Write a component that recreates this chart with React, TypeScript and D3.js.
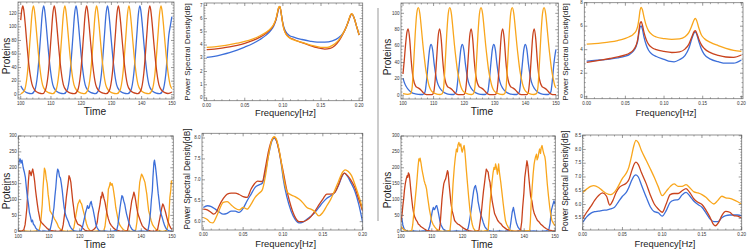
import * as d3 from 'd3';

type Pt = [number, number];

const BLUE = '#3d6fd9';
const RED = '#c9431d';
const YELLOW = '#f9a61c';

// tick values
const timeTicks = [100, 110, 120, 130, 140, 150];
const freqTicks = [0, 0.05, 0.1, 0.15, 0.2];
const proteinTicksA = [0, 20, 40, 60, 80, 100, 120];
const proteinTicksB = [0, 20, 40, 60, 80, 100];
const proteinTicksC = [0, 50, 100, 150, 200, 250, 300];
const psdTicksA = [0, 1, 2, 3, 4, 5, 6, 7];
const psdTicksB = [0, 2, 4, 6, 8];
const psdTicksC = [6.0, 6.5, 7.0, 7.5, 8.0];
const psdTicksD = [5.5, 6.0, 6.5, 7.0, 7.5, 8.0, 8.5];

// top-left: deterministic time series
const tlRed: Pt[] = [[100.0,110],[100.35,125],[100.7,131],[101.0,125],[101.5,104],[102.0,77],[102.7,44],[103.7,16],[104.7,6.5],[105.7,3.2],[106.7,1.8],[107.2,1.5],[108.1,6],[109.1,31],[110.1,88],[110.6,118],[111.1,131],[111.4,125],[111.9,104],[112.4,78],[113.1,45],[114.1,15],[115.1,6],[116.1,3],[117.1,1.8],[117.8,1.5],[118.8,6],[119.8,31],[120.8,88],[121.3,118],[121.8,131],[122.1,125],[122.6,104],[123.1,78],[123.8,45],[124.8,15],[125.8,6],[126.8,3],[127.8,1.8],[128.3,1.5],[129.3,6],[130.3,31],[131.3,88],[131.8,118],[132.3,131],[132.6,125],[133.1,104],[133.6,78],[134.3,45],[135.3,15],[136.3,6],[137.3,3],[138.3,1.8],[138.7,1.5],[139.7,6],[140.7,31],[141.7,88],[142.2,118],[142.7,131],[143.0,125],[143.5,104],[144.0,78],[144.7,45],[145.7,15],[146.7,6],[147.7,3],[148.7,1.8],[149.3,2.2],[150.0,4]];
const tlYellow: Pt[] = [[100.0,1.3],[101.2,6],[102.2,31],[103.2,88],[103.7,118],[104.2,131],[104.5,125],[105.0,104],[105.5,78],[106.2,45],[107.2,15],[108.2,6],[109.2,3],[110.2,1.8],[110.6,1.5],[111.6,6],[112.6,31],[113.6,88],[114.1,118],[114.6,131],[114.9,125],[115.4,104],[115.9,78],[116.6,45],[117.6,15],[118.6,6],[119.6,3],[120.6,1.8],[121.1,1.5],[122.1,6],[123.1,31],[124.1,88],[124.6,118],[125.1,131],[125.4,125],[125.9,104],[126.4,78],[127.1,45],[128.1,15],[129.1,6],[130.1,3],[131.1,1.8],[131.8,1.5],[132.8,6],[133.8,31],[134.8,88],[135.3,118],[135.8,131],[136.1,125],[136.6,104],[137.1,78],[137.8,45],[138.8,15],[139.8,6],[140.8,3],[141.8,1.8],[142.4,1.5],[143.4,6],[144.4,31],[145.4,88],[145.9,118],[146.4,131],[146.7,125],[147.2,104],[147.7,78],[148.4,45],[149.4,15],[150.0,9]];
const tlBlue: Pt[] = [[100.0,13],[101.0,6],[102.0,3],[103.0,1.8],[103.6,1.5],[104.6,6],[105.6,31],[106.6,88],[107.1,118],[107.6,131],[107.9,125],[108.4,104],[108.9,78],[109.6,45],[110.6,15],[111.6,6],[112.6,3],[113.6,1.8],[114.3,1.5],[115.3,6],[116.3,31],[117.3,88],[117.8,118],[118.3,131],[118.6,125],[119.1,104],[119.6,78],[120.3,45],[121.3,15],[122.3,6],[123.3,3],[124.3,1.8],[124.7,1.5],[125.7,6],[126.7,31],[127.7,88],[128.2,118],[128.7,131],[129.0,125],[129.5,104],[130.0,78],[130.7,45],[131.7,15],[132.7,6],[133.7,3],[134.7,1.8],[135.4,1.5],[136.4,6],[137.4,31],[138.4,88],[138.9,118],[139.4,131],[139.7,125],[140.2,104],[140.7,78],[141.4,45],[142.4,15],[143.4,6],[144.4,3],[145.4,1.8],[146.0,1.5],[147.0,6],[148.0,31],[149.0,88],[149.5,102],[150.0,115]];

// top-left PSD
const tpBlue: Pt[] = [[0,3.07],[0.01,3.15],[0.02,3.28],[0.03,3.43],[0.04,3.62],[0.05,3.85],[0.06,4.1],[0.07,4.42],[0.078,4.75],[0.084,5.1],[0.088,5.45],[0.091,5.9],[0.093,6.4],[0.0945,6.8],[0.096,6.88],[0.0975,6.5],[0.099,5.95],[0.101,5.4],[0.104,5.0],[0.108,4.75],[0.115,4.58],[0.125,4.42],[0.135,4.3],[0.145,4.22],[0.155,4.22],[0.165,4.32],[0.173,4.55],[0.179,4.9],[0.183,5.35],[0.186,5.8],[0.1885,6.2],[0.19,6.33],[0.1915,6.28],[0.194,5.95],[0.197,5.35],[0.2,4.76]];
const tpRed: Pt[] = [[0,3.65],[0.01,3.7],[0.02,3.77],[0.03,3.86],[0.04,3.98],[0.05,4.13],[0.06,4.33],[0.07,4.6],[0.078,4.9],[0.084,5.2],[0.088,5.52],[0.091,5.95],[0.093,6.45],[0.0945,6.82],[0.096,6.9],[0.0975,6.5],[0.099,5.9],[0.101,5.3],[0.104,4.85],[0.108,4.6],[0.115,4.4],[0.125,4.18],[0.135,3.98],[0.145,3.8],[0.155,3.7],[0.162,3.75],[0.168,3.95],[0.174,4.35],[0.179,4.85],[0.183,5.35],[0.186,5.8],[0.1885,6.22],[0.19,6.36],[0.1915,6.3],[0.194,5.95],[0.197,5.35],[0.2,4.76]];
const tpYellow: Pt[] = [[0,3.82],[0.01,3.87],[0.02,3.94],[0.03,4.03],[0.04,4.14],[0.05,4.27],[0.06,4.45],[0.07,4.7],[0.078,4.97],[0.084,5.25],[0.088,5.57],[0.091,6.0],[0.093,6.5],[0.0945,6.85],[0.096,6.93],[0.0975,6.52],[0.099,5.9],[0.101,5.28],[0.104,4.82],[0.108,4.57],[0.115,4.38],[0.125,4.2],[0.135,4.02],[0.145,3.88],[0.152,3.82],[0.158,3.82],[0.165,3.98],[0.172,4.3],[0.178,4.8],[0.183,5.35],[0.186,5.82],[0.1885,6.25],[0.19,6.38],[0.1915,6.3],[0.194,5.95],[0.197,5.35],[0.2,4.76]];

// top-right: deterministic time series
const trRed: Pt[] = [[100.0,26],[100.4,42],[100.9,64],[101.3,77],[101.7,81],[102.2,68],[102.7,42],[103.2,24],[103.7,15],[104.2,11],[104.7,9.5],[105.2,8.5],[105.7,7],[106.2,5],[106.7,3],[107.2,1.5],[108.2,0.8],[109.5,0.8],[110.0,3],[110.5,18],[111.0,45],[111.5,72],[112.0,81],[112.5,68],[113.0,42],[113.5,24],[114.0,15],[114.5,11],[115.0,9.5],[115.5,8.5],[116.0,7],[116.5,5],[117.0,3],[117.5,1.5],[118.5,0.8],[119.8,0.8],[120.3,3],[120.8,18],[121.3,45],[121.8,72],[122.3,81],[122.8,68],[123.3,42],[123.8,24],[124.3,15],[124.8,11],[125.3,9.5],[125.8,8.5],[126.3,7],[126.8,5],[127.3,3],[127.8,1.5],[128.8,0.8],[130.1,0.8],[130.6,3],[131.1,18],[131.6,45],[132.1,72],[132.6,81],[133.1,68],[133.6,42],[134.1,24],[134.6,15],[135.1,11],[135.6,9.5],[136.1,8.5],[136.6,7],[137.1,5],[137.6,3],[138.1,1.5],[139.1,0.8],[140.4,0.8],[140.9,3],[141.4,18],[141.9,45],[142.4,72],[142.9,81],[143.4,68],[143.9,42],[144.4,24],[144.9,15],[145.4,11],[145.9,9.5],[146.4,8.5],[146.9,7],[147.4,5],[147.9,3],[148.4,1.5],[149.4,0.8],[150.0,0.8]];
const trYellow: Pt[] = [[100.0,2],[101.5,1.2],[102.5,2],[103.0,10],[103.5,40],[104.0,75],[104.5,100],[105.0,107],[105.5,100],[106.0,82],[106.5,62],[107.0,45],[107.5,30],[108.0,20],[108.5,12],[109.0,7],[110.0,3],[111.0,1.5],[112.0,1],[112.8,2],[113.3,10],[113.8,40],[114.3,75],[114.8,100],[115.3,107],[115.8,100],[116.3,82],[116.8,62],[117.3,45],[117.8,30],[118.3,20],[118.8,12],[119.3,7],[120.3,3],[121.3,1.5],[122.3,1],[123.0,2],[123.5,10],[124.0,40],[124.5,75],[125.0,100],[125.5,107],[126.0,100],[126.5,82],[127.0,62],[127.5,45],[128.0,30],[128.5,20],[129.0,12],[129.5,7],[130.5,3],[131.5,1.5],[132.5,1],[133.2,2],[133.7,10],[134.2,40],[134.7,75],[135.2,100],[135.7,107],[136.2,100],[136.7,82],[137.2,62],[137.7,45],[138.2,30],[138.7,20],[139.2,12],[139.7,7],[140.7,3],[141.7,1.5],[142.7,1],[143.6,2],[144.1,10],[144.6,40],[145.1,75],[145.6,100],[146.1,107],[146.6,100],[147.1,82],[147.6,62],[148.1,45],[148.6,30],[149.1,20],[149.6,12],[150.0,9]];
const trBlue: Pt[] = [[100.0,21],[100.5,15],[101.0,11],[102.0,6],[103.0,3],[104.0,1.8],[105.0,1.2],[106.5,1],[107.2,4],[107.7,18],[108.2,38],[108.7,56],[109.2,62],[109.7,55],[110.2,38],[110.7,25],[111.2,16],[112.2,8],[113.2,4],[114.2,2],[115.2,1.2],[116.6,1],[117.4,4],[117.9,18],[118.4,38],[118.9,56],[119.4,62],[119.9,55],[120.4,38],[120.9,25],[121.4,16],[122.4,8],[123.4,4],[124.4,2],[125.4,1.2],[126.9,1],[127.7,4],[128.2,18],[128.7,38],[129.2,56],[129.7,62],[130.2,55],[130.7,38],[131.2,25],[131.7,16],[132.7,8],[133.7,4],[134.7,2],[135.7,1.2],[137.2,1],[138.0,4],[138.5,18],[139.0,38],[139.5,56],[140.0,62],[140.5,55],[141.0,38],[141.5,25],[142.0,16],[143.0,8],[144.0,4],[145.0,2],[146.0,1.2],[147.5,1],[148.3,4],[148.8,18],[149.3,38],[149.8,52],[150.0,56]];

// top-right PSD
const rpYellow: Pt[] = [[0,4.48],[0.01,4.52],[0.02,4.58],[0.03,4.66],[0.04,4.78],[0.05,4.96],[0.055,5.1],[0.06,5.3],[0.064,5.62],[0.066,6.0],[0.0675,6.6],[0.069,7.35],[0.0705,7.6],[0.072,7.4],[0.074,6.8],[0.077,6.05],[0.08,5.6],[0.085,5.25],[0.09,5.08],[0.1,4.95],[0.11,4.88],[0.12,4.92],[0.127,5.1],[0.132,5.45],[0.136,6.05],[0.139,6.55],[0.1405,6.67],[0.142,6.5],[0.145,5.85],[0.148,5.3],[0.152,4.95],[0.16,4.62],[0.17,4.35],[0.18,4.12],[0.19,3.95],[0.2,3.85]];
const rpRed: Pt[] = [[0,2.92],[0.01,3.02],[0.02,3.13],[0.03,3.25],[0.04,3.38],[0.05,3.56],[0.055,3.7],[0.06,3.95],[0.064,4.4],[0.066,4.9],[0.0675,5.6],[0.069,6.25],[0.0705,6.38],[0.072,6.1],[0.074,5.5],[0.077,4.85],[0.08,4.45],[0.085,4.15],[0.09,4.0],[0.1,3.85],[0.11,3.76],[0.12,3.82],[0.127,4.05],[0.132,4.45],[0.136,5.1],[0.139,5.55],[0.1405,5.62],[0.142,5.45],[0.145,4.9],[0.148,4.45],[0.152,4.1],[0.16,3.75],[0.17,3.52],[0.18,3.38],[0.19,3.35],[0.2,3.55]];
const rpBlue: Pt[] = [[0,3.03],[0.01,3.08],[0.02,3.14],[0.03,3.2],[0.04,3.3],[0.05,3.45],[0.055,3.58],[0.06,3.85],[0.064,4.3],[0.066,4.75],[0.0675,5.4],[0.069,5.92],[0.0705,6.02],[0.072,5.75],[0.074,5.1],[0.077,4.4],[0.08,3.95],[0.085,3.6],[0.09,3.42],[0.1,3.18],[0.108,3.0],[0.113,2.97],[0.12,3.15],[0.127,3.5],[0.132,4.1],[0.136,4.95],[0.139,5.45],[0.1405,5.52],[0.142,5.35],[0.145,4.7],[0.148,4.1],[0.152,3.6],[0.16,3.2],[0.17,2.98],[0.18,2.85],[0.19,2.85],[0.2,3.12]];

// bottom-left: stochastic time series
const blBlue: Pt[] = [[100.0,205],[100.3,222],[100.6,228],[100.9,215],[101.2,224],[101.6,200],[102.0,185],[102.3,170],[102.7,130],[103.0,105],[103.3,86],[103.6,60],[104.0,44],[104.3,30],[104.6,35],[104.9,23],[105.3,18],[105.7,10],[106.2,5],[106.8,2],[107.5,0],[108.5,1],[109.5,0],[110.3,3],[110.7,20],[111.0,34],[111.3,55],[111.6,75],[111.9,110],[112.2,138],[112.5,175],[112.8,196],[113.1,190],[113.4,172],[113.7,168],[114.0,150],[114.3,128],[114.6,100],[114.9,75],[115.2,60],[115.5,48],[115.9,39],[116.3,30],[116.7,18],[117.2,10],[117.7,4],[118.3,1],[119.5,0],[120.5,2],[120.9,15],[121.2,28],[121.6,45],[121.9,60],[122.2,70],[122.5,81],[122.8,72],[123.1,75],[123.4,88],[123.7,94],[124.0,80],[124.3,70],[124.6,55],[124.9,40],[125.2,23],[125.6,12],[126.1,4],[126.8,0],[128,1],[129.5,0],[131,1],[132.0,3],[132.4,20],[132.8,50],[133.1,75],[133.4,95],[133.7,112],[134.0,108],[134.3,95],[134.6,86],[134.9,70],[135.2,55],[135.5,44],[135.8,33],[136.1,23],[136.5,14],[137.0,6],[137.6,2],[138.5,0],[140,1],[141.5,0],[142.2,4],[142.6,25],[143.0,60],[143.3,100],[143.6,128],[143.8,170],[144.1,215],[144.3,224],[144.6,205],[144.9,180],[145.2,150],[145.5,120],[145.8,96],[146.1,70],[146.4,55],[146.8,44],[147.2,30],[147.6,18],[148.0,10],[148.5,4],[149.2,1],[150,0]];
const blRed: Pt[] = [[100.0,2],[101.0,0],[101.8,5],[102.2,20],[102.5,45],[102.8,75],[103.0,110],[103.3,159],[103.6,191],[103.9,185],[104.2,175],[104.4,186],[104.7,196],[105.0,180],[105.3,159],[105.6,130],[105.9,107],[106.2,85],[106.5,65],[106.8,50],[107.1,34],[107.5,28],[108.0,23],[108.5,18],[109.0,13],[109.5,8],[110.3,3],[111.5,1],[113,0],[114.2,3],[114.6,20],[115.0,50],[115.3,75],[115.6,105],[115.9,128],[116.2,150],[116.5,175],[116.8,168],[117.1,154],[117.4,125],[117.7,96],[118.0,75],[118.4,44],[118.8,35],[119.3,23],[119.8,20],[120.3,18],[121.0,10],[121.7,3],[122.5,1],[124.0,2],[124.8,8],[125.3,15],[125.7,30],[126.0,55],[126.3,70],[126.6,86],[126.9,110],[127.1,105],[127.3,123],[127.6,115],[127.9,102],[128.2,92],[128.5,75],[128.9,55],[129.3,39],[129.8,25],[130.3,18],[131.0,10],[131.8,4],[133,1],[134.5,0],[135.5,2],[135.9,20],[136.3,55],[136.6,75],[136.9,96],[137.3,110],[137.6,123],[137.9,112],[138.2,95],[138.5,75],[138.9,55],[139.3,44],[139.8,30],[140.3,18],[141.0,10],[141.8,4],[143,1],[144.5,0],[145.3,5],[145.7,25],[146.1,44],[146.4,60],[146.7,75],[147.0,86],[147.3,80],[147.6,70],[147.9,60],[148.3,44],[148.7,30],[149.2,18],[149.6,10],[150,6]];
const blYellow: Pt[] = [[100,0],[102,1],[104,0],[106,1],[106.8,4],[107.2,20],[107.5,50],[107.8,86],[108.0,130],[108.2,159],[108.5,199],[108.8,190],[109.1,165],[109.4,150],[109.7,117],[110.0,95],[110.3,65],[110.6,60],[110.9,55],[111.3,50],[111.7,40],[112.1,34],[112.6,25],[113.1,13],[113.7,6],[114.5,1],[116,0],[117.6,2],[118.1,12],[118.5,35],[118.8,55],[119.1,70],[119.4,86],[119.7,92],[120.0,99],[120.3,90],[120.6,86],[121.0,70],[121.4,55],[121.8,40],[122.2,23],[122.7,10],[123.3,3],[124.2,0],[126,1],[127.8,2],[128.2,15],[128.5,40],[128.8,65],[129.1,100],[129.3,133],[129.6,140],[129.9,154],[130.2,145],[130.5,150],[130.8,139],[131.1,120],[131.4,100],[131.7,75],[132.1,55],[132.5,34],[133.0,20],[133.5,13],[134.2,5],[135,1],[137,0],[138.2,4],[138.6,30],[138.9,75],[139.2,120],[139.5,154],[139.8,168],[140.1,180],[140.4,175],[140.6,170],[140.9,162],[141.2,154],[141.5,135],[141.8,117],[142.1,90],[142.4,65],[142.8,50],[143.2,34],[143.7,20],[144.2,13],[144.8,6],[145.5,2],[147,0],[148.3,3],[148.7,20],[149.0,50],[149.3,107],[149.6,130],[149.8,159],[150,150]];

// bottom-left PSD
const bpBlue: Pt[] = [[0,6.34],[0.005,6.38],[0.01,6.36],[0.015,6.3],[0.02,6.23],[0.025,6.18],[0.03,6.2],[0.035,6.25],[0.04,6.25],[0.045,6.22],[0.05,6.32],[0.055,6.5],[0.06,6.66],[0.065,6.82],[0.07,6.88],[0.074,6.92],[0.078,7.2],[0.082,7.6],[0.086,7.92],[0.089,8.0],[0.092,7.92],[0.095,7.7],[0.098,7.35],[0.1,7.06],[0.105,6.58],[0.11,6.26],[0.115,6.06],[0.12,5.97],[0.125,5.99],[0.13,6.06],[0.135,6.13],[0.14,6.22],[0.145,6.34],[0.15,6.46],[0.155,6.56],[0.16,6.62],[0.165,6.7],[0.17,6.88],[0.174,7.08],[0.177,7.16],[0.181,7.08],[0.185,6.94],[0.19,6.74],[0.195,6.42],[0.2,5.98]];
const bpRed: Pt[] = [[0,6.3],[0.005,6.28],[0.01,6.22],[0.013,6.18],[0.017,6.25],[0.02,6.38],[0.025,6.55],[0.03,6.66],[0.035,6.68],[0.04,6.68],[0.045,6.65],[0.05,6.6],[0.055,6.58],[0.06,6.78],[0.064,6.9],[0.068,6.97],[0.074,6.96],[0.078,7.3],[0.082,7.7],[0.086,7.95],[0.089,8.02],[0.092,7.93],[0.095,7.7],[0.098,7.4],[0.1,7.22],[0.104,6.82],[0.108,6.5],[0.112,6.25],[0.116,6.08],[0.12,6.0],[0.125,6.0],[0.13,6.04],[0.135,6.12],[0.14,6.25],[0.145,6.4],[0.15,6.54],[0.155,6.66],[0.16,6.66],[0.165,6.7],[0.17,6.9],[0.174,7.1],[0.177,7.16],[0.181,7.1],[0.185,7.0],[0.19,6.82],[0.195,6.54],[0.2,6.25]];
const bpYellow: Pt[] = [[0,6.1],[0.005,6.05],[0.009,5.98],[0.012,5.97],[0.016,6.1],[0.02,6.28],[0.025,6.46],[0.03,6.48],[0.035,6.4],[0.04,6.32],[0.045,6.28],[0.05,6.34],[0.055,6.3],[0.06,6.42],[0.065,6.58],[0.07,6.68],[0.074,6.76],[0.078,7.1],[0.082,7.6],[0.086,7.95],[0.089,8.03],[0.092,7.96],[0.095,7.73],[0.098,7.4],[0.1,7.14],[0.105,6.72],[0.11,6.64],[0.115,6.6],[0.12,6.54],[0.125,6.45],[0.13,6.34],[0.135,6.3],[0.14,6.24],[0.145,6.14],[0.15,6.22],[0.155,6.38],[0.16,6.54],[0.165,6.75],[0.17,6.98],[0.174,7.16],[0.178,7.24],[0.182,7.2],[0.186,7.1],[0.19,6.9],[0.195,6.62],[0.2,6.3]];

// bottom-right: stochastic time series
const brRed: Pt[] = [[100.0,30],[100.3,50],[100.6,80],[100.9,105],[101.1,128],[101.4,150],[101.7,165],[102.0,175],[102.2,170],[102.4,184],[102.7,178],[102.9,160],[103.2,128],[103.5,100],[103.8,75],[104.1,58],[104.5,44],[104.9,36],[105.3,30],[105.6,23],[106.0,20],[106.4,15],[106.9,12],[107.5,8],[108.3,3],[109.5,1],[111,0],[112.4,3],[112.7,20],[113.0,60],[113.3,100],[113.6,128],[113.9,150],[114.2,159],[114.5,165],[114.8,178],[115.1,191],[115.3,185],[115.6,150],[115.9,120],[116.2,90],[116.6,65],[117.0,50],[117.4,34],[117.9,28],[118.4,23],[119.0,20],[119.6,15],[120.3,10],[121,6],[122,2],[123.5,0],[125.3,3],[125.7,30],[126.1,60],[126.5,100],[126.8,128],[127.1,150],[127.4,175],[127.7,196],[128.0,190],[128.3,186],[128.6,165],[128.9,154],[129.2,125],[129.6,96],[130.0,75],[130.4,55],[130.9,45],[131.4,34],[131.9,28],[132.5,23],[133.1,15],[133.8,10],[134.5,5],[135.5,2],[137,0],[138.8,2],[139.2,30],[139.5,75],[139.9,120],[140.2,170],[140.6,200],[140.9,222],[141.2,205],[141.5,170],[141.8,140],[142.1,110],[142.5,96],[142.9,70],[143.3,55],[143.8,44],[144.3,34],[144.8,30],[145.3,23],[145.9,18],[146.5,13],[147.2,8],[148,4],[149,2],[150,1]];
const brYellow: Pt[] = [[100.0,15],[100.8,6],[101.5,2],[102.5,0],[103.5,3],[103.8,20],[104.1,50],[104.4,80],[104.7,110],[105.0,140],[105.3,175],[105.5,200],[105.8,228],[106.0,222],[106.2,230],[106.5,215],[106.8,195],[107.0,185],[107.2,175],[107.5,160],[107.8,150],[108.0,145],[108.3,133],[108.6,110],[108.9,90],[109.2,70],[109.6,50],[109.9,34],[110.4,22],[111.0,13],[111.6,6],[112.3,2],[113.5,0],[115,1],[115.9,3],[116.2,30],[116.6,96],[116.9,150],[117.3,201],[117.6,230],[118.0,259],[118.3,250],[118.5,272],[118.8,280],[119.1,268],[119.4,275],[119.7,255],[119.9,249],[120.2,262],[120.5,270],[120.7,255],[120.9,233],[121.2,195],[121.6,149],[122.0,105],[122.4,65],[122.8,40],[123.1,23],[123.5,10],[124.0,3],[125.0,0],[127,1],[128.3,3],[128.6,40],[128.8,75],[129.2,120],[129.6,159],[129.9,185],[130.2,201],[130.5,195],[130.7,212],[131.0,200],[131.3,180],[131.5,195],[131.7,212],[131.9,190],[132.1,175],[132.4,154],[132.8,120],[133.2,86],[133.6,55],[133.9,34],[134.3,22],[134.8,13],[135.3,5],[136,1],[138,0],[140,1],[141.8,3],[142.0,30],[142.3,96],[142.6,140],[142.9,180],[143.2,210],[143.4,222],[143.7,235],[144.0,243],[144.2,225],[144.5,233],[144.8,250],[145.0,259],[145.3,245],[145.5,262],[145.8,270],[146.1,255],[146.4,243],[146.7,235],[146.9,222],[147.2,185],[147.5,149],[147.9,110],[148.3,75],[148.6,55],[149.0,34],[149.5,25],[150,18]];
const brBlue: Pt[] = [[100,45],[100.3,40],[100.6,20],[101.0,8],[101.5,3],[102.5,0],[104,1],[106,0],[107,1],[108.8,2],[109.3,15],[109.7,34],[110.0,55],[110.2,65],[110.5,75],[110.8,68],[111.0,70],[111.3,78],[111.6,81],[111.9,70],[112.1,60],[112.4,45],[112.6,34],[113.0,20],[113.7,7],[114.5,2],[116,0],[118,1],[120,0],[121.3,2],[121.8,10],[122.2,30],[122.6,55],[122.9,75],[123.2,100],[123.6,128],[123.9,140],[124.2,144],[124.5,130],[124.8,117],[125.0,95],[125.3,80],[125.6,65],[126.0,50],[126.4,38],[126.7,28],[127.2,15],[127.8,7],[128.5,2],[130,0],[132,1],[134,0],[135.3,5],[135.6,23],[135.9,45],[136.1,60],[136.5,75],[136.8,60],[137.1,44],[137.5,25],[138.0,13],[138.6,5],[139.5,1],[141,0],[143,1],[145,0],[147,1],[148.0,5],[148.4,25],[148.8,65],[149.2,80],[149.5,90],[149.7,96],[150,85]];

// bottom-right PSD
const qpYellow: Pt[] = [[0,6.44],[0.005,6.56],[0.01,6.66],[0.014,6.69],[0.02,6.62],[0.025,6.5],[0.03,6.4],[0.035,6.36],[0.04,6.45],[0.045,6.68],[0.05,6.95],[0.055,7.15],[0.058,7.35],[0.061,7.7],[0.064,8.1],[0.067,8.33],[0.07,8.25],[0.074,7.95],[0.08,7.6],[0.085,7.3],[0.09,6.99],[0.095,6.65],[0.1,6.32],[0.105,6.48],[0.11,6.65],[0.115,6.75],[0.12,6.66],[0.125,6.66],[0.13,6.72],[0.135,6.6],[0.14,6.46],[0.145,6.42],[0.15,6.36],[0.155,6.26],[0.16,6.12],[0.165,6.02],[0.17,6.15],[0.175,6.3],[0.18,6.24],[0.185,6.22],[0.19,6.17],[0.195,6.1],[0.2,6.02]];
const qpRed: Pt[] = [[0,5.48],[0.005,5.72],[0.01,5.92],[0.015,6.15],[0.02,6.33],[0.025,6.42],[0.03,6.3],[0.034,5.98],[0.038,6.15],[0.042,6.44],[0.046,6.62],[0.05,6.7],[0.055,6.78],[0.058,6.9],[0.062,7.25],[0.065,7.48],[0.067,7.54],[0.07,7.45],[0.074,7.15],[0.08,6.75],[0.085,6.35],[0.09,6.02],[0.095,5.84],[0.1,5.72],[0.105,6.02],[0.11,6.36],[0.115,6.4],[0.12,6.4],[0.125,6.5],[0.13,6.58],[0.135,6.42],[0.14,6.2],[0.145,6.08],[0.15,6.0],[0.155,5.8],[0.16,5.55],[0.164,5.3],[0.167,5.23],[0.171,5.35],[0.175,5.6],[0.18,5.75],[0.185,5.72],[0.19,5.6],[0.195,5.58],[0.2,5.51]];
const qpBlue: Pt[] = [[0,5.35],[0.005,5.55],[0.01,5.68],[0.015,5.74],[0.02,5.76],[0.025,5.79],[0.03,5.8],[0.035,5.84],[0.04,5.9],[0.045,6.1],[0.05,6.3],[0.055,6.45],[0.058,6.62],[0.062,6.9],[0.065,7.05],[0.067,7.08],[0.07,7.0],[0.074,6.7],[0.08,6.26],[0.085,5.92],[0.09,5.74],[0.095,5.7],[0.1,5.58],[0.105,5.78],[0.11,6.08],[0.115,6.16],[0.12,6.18],[0.125,6.35],[0.13,6.44],[0.135,6.3],[0.14,6.12],[0.145,6.0],[0.15,5.9],[0.155,5.7],[0.16,5.48],[0.165,5.38],[0.17,5.38],[0.175,5.52],[0.18,5.6],[0.185,5.62],[0.19,5.62],[0.195,5.62],[0.2,5.6]];

const FONT = "'Liberation Sans', Arial, sans-serif";

interface PanelProps {
  id: string;
  box: [number, number, number, number];
  xDomain: [number, number];
  yDomain: [number, number];
  xTicks: number[];
  yTicks: number[];
  xFmt: (d: number) => string;
  yFmt: (d: number) => string;
  lines: { data: Pt[]; color: string }[];
  smooth: boolean;
  xLabel: string;
  yLabel: string;
  xLabelAt: [number, number];
  yLabelAt: [number, number];
  xLabelSize: number;
  yLabelSize: number;
}

// minor tick positions between the major ones (5 subdivisions)
function minors(ticks: number[], domain: [number, number]) {
  const step = (ticks[1] - ticks[0]) / 5;
  const out: number[] = [];
  const start = Math.ceil((domain[0] - ticks[0]) / step);
  for (let i = start; ticks[0] + i * step <= domain[1] + 1e-9; i++) {
    if (i % 5 !== 0) out.push(ticks[0] + i * step);
  }
  return out;
}

function Panel(p: PanelProps) {
  const [x0, y0, x1, y1] = p.box;
  const x = d3.scaleLinear().domain(p.xDomain).range([x0, x1]);
  const y = d3.scaleLinear().domain(p.yDomain).range([y1, y0]);
  const line = d3
    .line<Pt>()
    .x((d) => x(d[0]))
    .y((d) => y(d[1]))
    .curve(p.smooth ? d3.curveMonotoneX : d3.curveLinear);
  const mx = minors(p.xTicks, p.xDomain);
  const my = minors(p.yTicks, p.yDomain);
  const tc = '#555';
  return (
    <g>
      <defs>
        <clipPath id={p.id}>
          <rect x={x0} y={y0} width={x1 - x0} height={y1 - y0} />
        </clipPath>
      </defs>
      <g clipPath={`url(#${p.id})`}>
        {p.lines.map((l, i) => (
          <path key={i} d={line(l.data) || ''} fill="none" stroke={l.color} strokeWidth={1.3} strokeLinejoin="round" />
        ))}
      </g>
      <rect x={x0} y={y0} width={x1 - x0} height={y1 - y0} fill="none" stroke="#777" strokeWidth={0.8} />
      {p.xTicks.map((t) => (
        <g key={'x' + t}>
          <line x1={x(t)} x2={x(t)} y1={y1} y2={y1 - 3} stroke={tc} strokeWidth={0.6} />
          <line x1={x(t)} x2={x(t)} y1={y0} y2={y0 + 3} stroke={tc} strokeWidth={0.6} />
          <text x={x(t)} y={y1 + 6.4} fontSize={4.5} textAnchor="middle" fill="#333" fontFamily={FONT}>
            {p.xFmt(t)}
          </text>
        </g>
      ))}
      {mx.map((t) => (
        <g key={'mx' + t}>
          <line x1={x(t)} x2={x(t)} y1={y1} y2={y1 - 1.5} stroke={tc} strokeWidth={0.5} />
          <line x1={x(t)} x2={x(t)} y1={y0} y2={y0 + 1.5} stroke={tc} strokeWidth={0.5} />
        </g>
      ))}
      {p.yTicks.map((t) => (
        <g key={'y' + t}>
          <line x1={x0} x2={x0 + 3} y1={y(t)} y2={y(t)} stroke={tc} strokeWidth={0.6} />
          <line x1={x1} x2={x1 - 3} y1={y(t)} y2={y(t)} stroke={tc} strokeWidth={0.6} />
          <text x={x0 - 1.5} y={y(t) + 1.2} fontSize={4.5} textAnchor="end" fill="#333" fontFamily={FONT}>
            {p.yFmt(t)}
          </text>
        </g>
      ))}
      {my.map((t) => (
        <g key={'my' + t}>
          <line x1={x0} x2={x0 + 1.5} y1={y(t)} y2={y(t)} stroke={tc} strokeWidth={0.5} />
          <line x1={x1} x2={x1 - 1.5} y1={y(t)} y2={y(t)} stroke={tc} strokeWidth={0.5} />
        </g>
      ))}
      <text x={p.xLabelAt[0]} y={p.xLabelAt[1]} fontSize={p.xLabelSize} textAnchor="middle" fill="#222" fontFamily={FONT}>
        {p.xLabel}
      </text>
      <text
        transform={`translate(${p.yLabelAt[0]},${p.yLabelAt[1]}) rotate(-90)`}
        fontSize={p.yLabelSize}
        textAnchor="middle"
        dominantBaseline="central"
        fill="#222"
        fontFamily={FONT}
      >
        {p.yLabel}
      </text>
    </g>
  );
}

const fmtInt = (d: number) => String(d);
const fmt2 = d3.format('.2f');
const fmt1 = d3.format('.1f');

export default function App() {
  return (
    <svg width={747} height={249} style={{ position: 'absolute', left: 0, top: 0, background: '#fff' }}>
      <Panel
        id="c1" box={[18, 2, 174, 99]} xDomain={[99.1, 150.7]} yDomain={[-6.3, 136.7]}
        xTicks={timeTicks} yTicks={proteinTicksA} xFmt={fmtInt} yFmt={fmtInt}
        lines={[{ data: tlBlue, color: BLUE }, { data: tlYellow, color: YELLOW }, { data: tlRed, color: RED }]}
        smooth xLabel="Time" yLabel="Proteins" xLabelAt={[95, 115]} yLabelAt={[6, 56]} xLabelSize={10.2} yLabelSize={10}
      />
      <Panel
        id="c2" box={[204, 3, 362.7, 100.7]} xDomain={[-0.0035, 0.2047]} yDomain={[-0.204, 7.178]}
        xTicks={freqTicks} yTicks={psdTicksA} xFmt={fmt2} yFmt={fmtInt}
        lines={[{ data: tpBlue, color: BLUE }, { data: tpRed, color: RED }, { data: tpYellow, color: YELLOW }]}
        smooth xLabel="Frequency[Hz]" yLabel="Power Spectral Density[dB]" xLabelAt={[285.5, 116]} yLabelAt={[187, 52]} xLabelSize={9.4} yLabelSize={8}
      />
      <Panel
        id="c3" box={[401, 3, 558.3, 99]} xDomain={[99.35, 150.75]} yDomain={[-4.5, 112.6]}
        xTicks={timeTicks} yTicks={proteinTicksB} xFmt={fmtInt} yFmt={fmtInt}
        lines={[{ data: trBlue, color: BLUE }, { data: trRed, color: RED }, { data: trYellow, color: YELLOW }]}
        smooth xLabel="Time" yLabel="Proteins" xLabelAt={[482, 115]} yLabelAt={[387, 57]} xLabelSize={10.2} yLabelSize={10}
      />
      <Panel
        id="c4" box={[584.3, 2.7, 743, 98.7]} xDomain={[-0.003125, 0.2021]} yDomain={[-0.17, 8.0]}
        xTicks={freqTicks} yTicks={psdTicksB} xFmt={fmt2} yFmt={fmtInt}
        lines={[{ data: rpBlue, color: BLUE }, { data: rpRed, color: RED }, { data: rpYellow, color: YELLOW }]}
        smooth xLabel="Frequency[Hz]" yLabel="Power Spectral Density[dB]" xLabelAt={[666, 116]} yLabelAt={[565, 52]} xLabelSize={9.4} yLabelSize={8}
      />
      <Panel
        id="c5" box={[18.3, 136, 173.3, 231.3]} xDomain={[100, 150.42]} yDomain={[0, 300]}
        xTicks={timeTicks} yTicks={proteinTicksC} xFmt={fmtInt} yFmt={fmtInt}
        lines={[{ data: blYellow, color: YELLOW }, { data: blRed, color: RED }, { data: blBlue, color: BLUE }]}
        smooth={false} xLabel="Time" yLabel="Proteins" xLabelAt={[95, 247.5]} yLabelAt={[6, 191]} xLabelSize={10} yLabelSize={10}
      />
      <Panel
        id="c6" box={[202, 133.3, 362.7, 230]} xDomain={[-0.00163, 0.2]} yDomain={[5.801, 8.112]}
        xTicks={freqTicks} yTicks={psdTicksC} xFmt={fmt2} yFmt={fmt1}
        lines={[{ data: bpBlue, color: BLUE }, { data: bpRed, color: RED }, { data: bpYellow, color: YELLOW }]}
        smooth xLabel="Frequency[Hz]" yLabel="Power Spectral Density[dB]" xLabelAt={[285.7, 246.5]} yLabelAt={[186.5, 179]} xLabelSize={9.4} yLabelSize={8.3}
      />
      <Panel
        id="c7" box={[401, 136, 555.3, 231.3]} xDomain={[100, 150.1]} yDomain={[0, 300]}
        xTicks={timeTicks} yTicks={proteinTicksC} xFmt={fmtInt} yFmt={fmtInt}
        lines={[{ data: brBlue, color: BLUE }, { data: brRed, color: RED }, { data: brYellow, color: YELLOW }]}
        smooth={false} xLabel="Time" yLabel="Proteins" xLabelAt={[482, 247.5]} yLabelAt={[387, 190]} xLabelSize={10} yLabelSize={10}
      />
      <Panel
        id="c8" box={[582.7, 135, 741.7, 230]} xDomain={[0, 0.2]} yDomain={[5.075, 8.525]}
        xTicks={freqTicks} yTicks={psdTicksD} xFmt={fmt2} yFmt={fmt1}
        lines={[{ data: qpBlue, color: BLUE }, { data: qpRed, color: RED }, { data: qpYellow, color: YELLOW }]}
        smooth xLabel="Frequency[Hz]" yLabel="Power Spectral Density[dB]" xLabelAt={[665, 246.5]} yLabelAt={[565, 181]} xLabelSize={9.4} yLabelSize={8.3}
      />
      <line x1={378} x2={378} y1={8} y2={221} stroke="#999" strokeWidth={1} />
    </svg>
  );
}
